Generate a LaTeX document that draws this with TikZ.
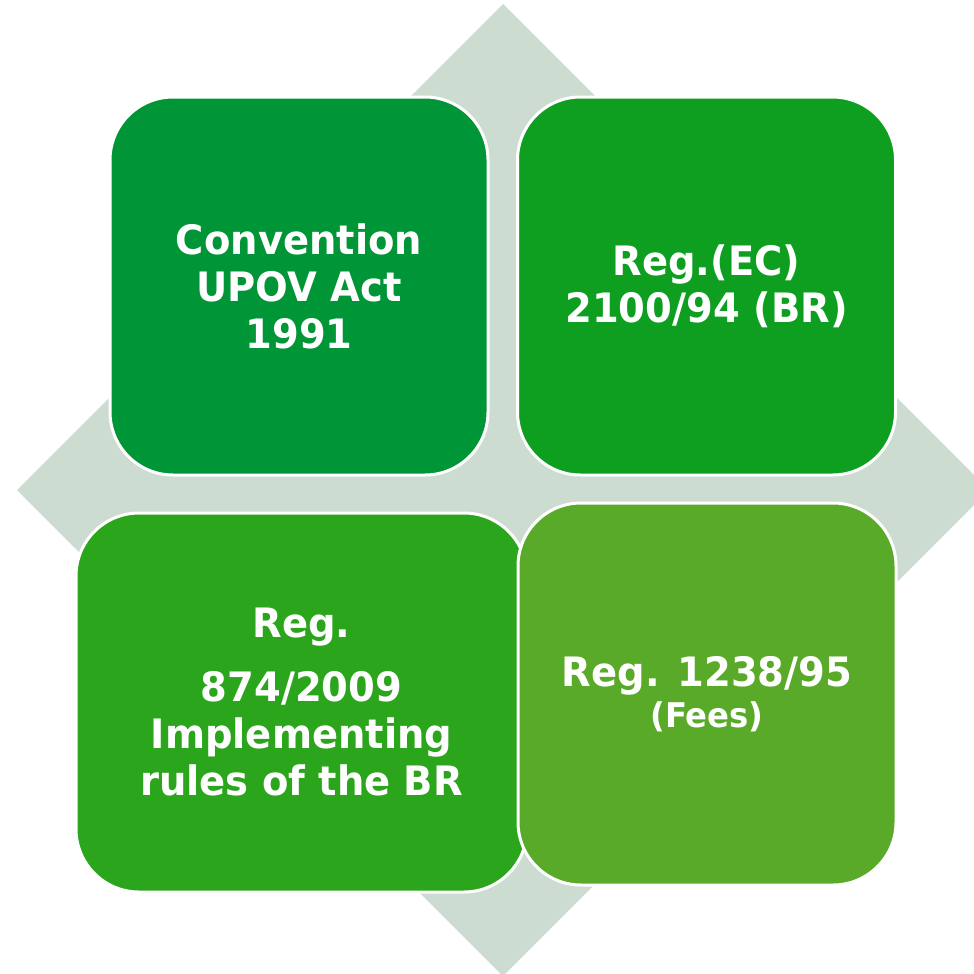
\documentclass[tikz,border=0pt]{standalone}
\usepackage{fontspec}
\setmainfont{DejaVu Sans}[FakeStretch=0.95]
\definecolor{diam}{RGB}{204,220,209}
\definecolor{gA}{RGB}{0,149,54}
\definecolor{gB}{RGB}{14,158,32}
\definecolor{gC}{RGB}{43,165,27}
\definecolor{gD}{RGB}{90,170,42}
\tikzset{
  card/.style={rectangle, rounded corners=63pt, draw=white, line width=3pt,
    inner sep=0pt, align=center, text=white,
    font=\fontsize{40.5}{47}\selectfont\bfseries},
}
\begin{document}
\begin{tikzpicture}[x=1pt,y=-1pt]
\useasboundingbox (0,0) rectangle (974,974);
\clip (0,0) rectangle (974,974);
\fill[diam] (503,4) -- (989,490) -- (503,976) -- (17,490) -- cycle;
\node[card, fill=gA, minimum width=378pt, minimum height=378pt] (tl) at (299,286)
  {Convention\\UPOV Act\\1991};
\node[card, fill=gB, minimum width=378pt, minimum height=378pt] (tr) at (706.5,286)
  {Reg.(EC)\\2100/94 (BR)};
\node[card, fill=gC, minimum width=451pt, minimum height=379pt] (bl) at (301.5,702.5)
  {Reg.\\[17pt]874/2009\\Implementing\\rules of the BR};
\node[card, fill=gD, minimum width=378pt, minimum height=382pt] (br) at (707,694)
  {Reg. 1238/95\\[-6pt]{\fontsize{34}{40}\selectfont (Fees)}};
\end{tikzpicture}
\end{document}
